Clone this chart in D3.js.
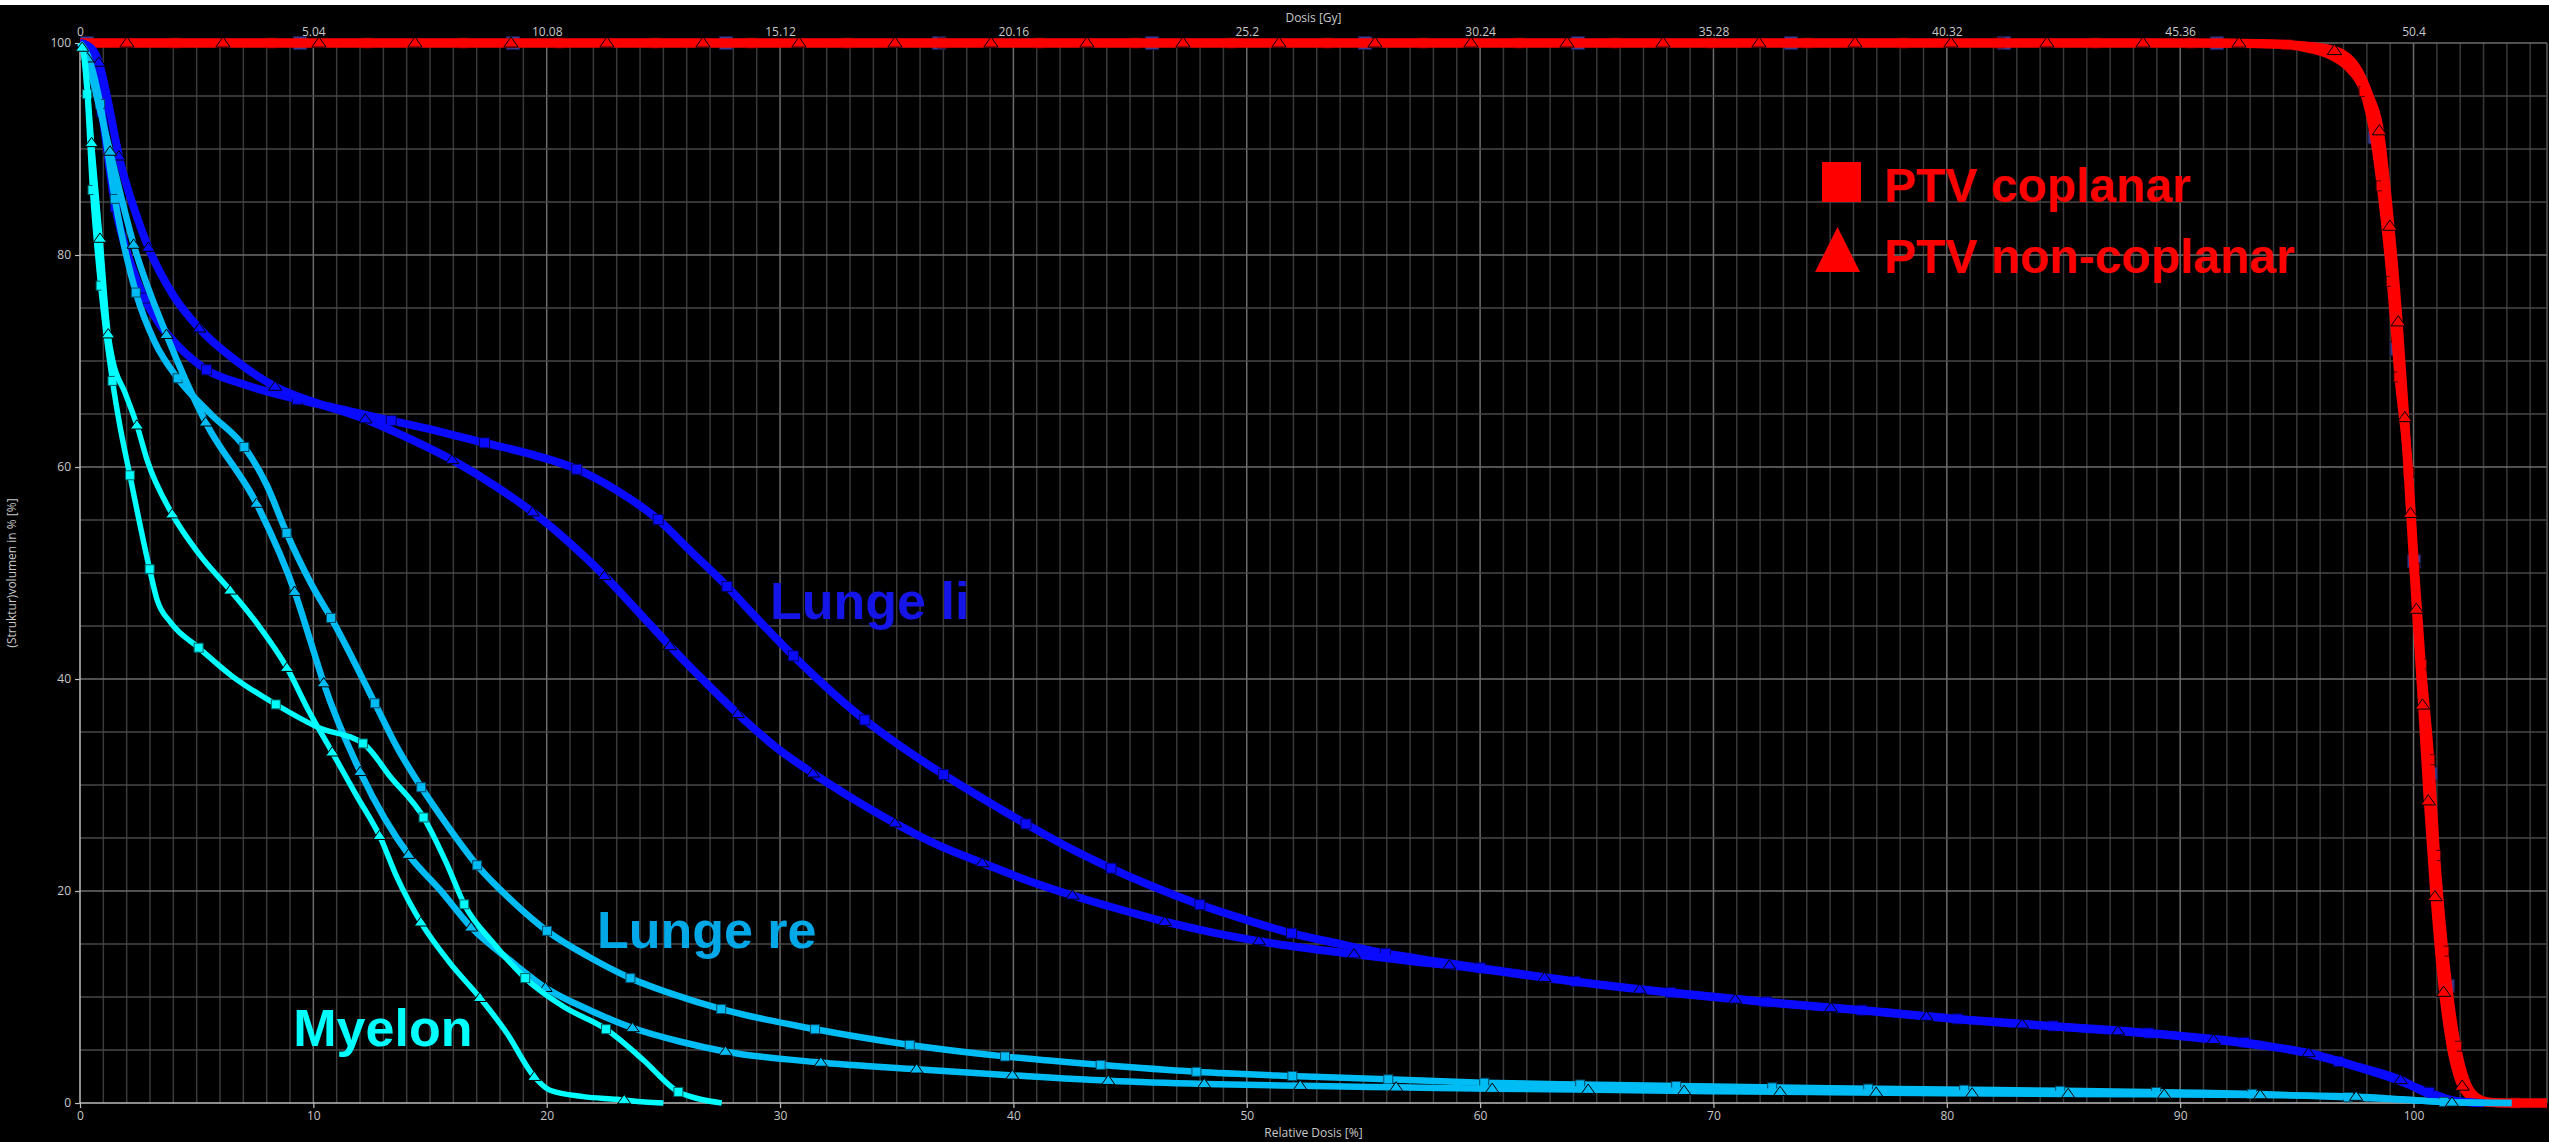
<!DOCTYPE html>
<html><head><meta charset="utf-8">
<script src="https://cdn.jsdelivr.net/npm/d3@7/dist/d3.min.js"></script>
<style>html,body{margin:0;padding:0;background:#000;overflow:hidden}</style>
</head><body>
<svg id="chart" width="2549" height="1142"></svg>
<script>
// ---------- DATA ----------
const relTicks = [0,10,20,30,40,50,60,70,80,90,100];
const gyTicks = ["0","5.04","10.08","15.12","20.16","25.2","30.24","35.28","40.32","45.36","50.4"];
const volTicks = [0,20,40,60,80,100];

// [relative dose %, volume %]
const ptvCoplanar = [[0,100],[60,100],[90,100],[94,99.9],[95.5,99.5],[96.5,98.8],[97.3,97.5],[97.87,95.5],[98.3,91.5],[98.61,86.6],[99.04,77.7],[99.37,68.6],[99.79,59.7],[100.04,50.6],[100.33,41.6],[100.69,32.6],[100.94,23.6],[101.29,14.6],[101.83,5.5],[102.2,2.2],[102.6,0.7],[103.2,0.1],[104,0],[105.72,0]];
const ptvNonCoplanar = [[0,100],[60,100],[92,100],[95,99.8],[96.6,99.3],[97.6,97.5],[98.1,95],[98.51,92.1],[98.97,83.2],[99.33,74.1],[99.61,65.2],[99.86,56.1],[100.11,47.0],[100.37,38.1],[100.61,29.2],[100.9,20.0],[101.26,11.0],[101.6,5.5],[101.97,2.2],[102.4,0.7],[103,0.1],[104,0],[105.72,0]];
const lungeLiCoplanar = [[0,100],[0.3,99],[0.86,94.5],[1.5,84.7],[2.2,79],[2.79,75.8],[3.5,73.2],[4.3,71.2],[5.4,69.2],[7.0,67.8],[9.3,66.4],[11.5,65.3],[13.5,64.3],[15.5,63.3],[17.3,62.3],[19.5,61.1],[21.28,59.8],[23.0,57.8],[24.76,55.07],[26.2,52.0],[27.68,48.84],[29.1,45.5],[30.53,42.27],[32.0,39.2],[33.55,36.28],[35.2,33.6],[36.93,31.09],[38.7,28.7],[40.44,26.45],[42.2,24.3],[44.1,22.24],[46.0,20.4],[47.88,18.8],[49.8,17.4],[51.78,16.1],[54,15.0],[56,14.1],[58,13.4],[60,12.75],[64,11.5],[68.3,10.4],[72.7,9.45],[76.7,8.7],[81.2,7.8],[85,7.2],[89.2,6.5],[93,5.65],[95,4.9],[96.7,3.96],[98.8,2.55],[100.6,1.07],[101.6,0.3],[102.5,0.05],[103,0]];
const lungeLiNonCoplanar = [[0,100],[0.3,99.8],[0.6,99.2],[0.86,97.8],[1.2,94.5],[1.69,89.1],[2.3,84.5],[2.97,80.5],[4.0,76.2],[5.19,72.9],[6.7,70.0],[8.44,67.5],[10.2,66],[12,64.7],[14,62.8],[16.07,60.52],[17.8,58.2],[19.5,55.57],[21.0,52.8],[22.5,49.68],[23.9,46.4],[25.33,43.0],[26.8,39.7],[28.27,36.55],[29.8,33.6],[31.48,31.0],[33.2,28.6],[34.97,26.35],[36.8,24.3],[38.75,22.57],[40.6,21.0],[42.58,19.55],[44.5,18.3],[46.5,17.1],[48.5,16.1],[51,15.1],[54,14.2],[57,13.4],[60,12.65],[64,11.45],[68.3,10.35],[72.7,9.4],[76.7,8.65],[81.2,7.75],[85,7.15],[89.2,6.45],[93,5.55],[95.55,4.7],[97.5,3.5],[99.46,2.17],[100.5,1.0],[101.5,0.3],[102.5,0.05],[103,0]];
const lungeReCoplanar = [[0,100],[0.3,99],[0.86,94.3],[1.5,85.2],[2.4,76.4],[3.2,71.8],[4.21,68.3],[5.6,65],[7.07,61.8],[8.0,58.3],[8.83,53.9],[9.9,49.0],[10.9,45.2],[12.64,37.7],[13.6,33.5],[14.62,29.8],[15.8,26],[17.03,22.4],[18.5,19.1],[20.04,16.2],[21.8,13.8],[23.57,11.8],[25.5,10.2],[27.46,8.87],[31.4,7.0],[35.5,5.5],[39.6,4.4],[43.7,3.6],[47.8,2.95],[51.9,2.55],[56,2.24],[60.1,1.92],[65,1.72],[70,1.55],[75,1.4],[80,1.27],[85,1.15],[90,1.0],[93.4,0.85],[97.1,0.55],[100,0.25],[102,0.05],[104.2,0]];
const lungeReNonCoplanar = [[0,100],[0.25,99],[0.6,96],[1.29,89.75],[2.31,80.9],[3.71,72.45],[5.39,64.2],[7.6,56.4],[9.22,48.1],[10.0,42.7],[10.46,39.5],[12.04,31.1],[14.12,23.3],[15.43,20.1],[16.79,16.5],[18.4,13.5],[20.0,10.8],[21.8,8.8],[23.72,7.05],[25.7,5.8],[27.69,4.84],[31.6,3.85],[35.7,3.2],[40,2.6],[44.1,2.1],[48.2,1.8],[52.3,1.63],[56.4,1.48],[60.5,1.35],[65,1.25],[70,1.12],[75,1.02],[80,0.93],[85,0.86],[90,0.8],[93.4,0.75],[97.6,0.6],[99.5,0.35],[101.6,0.05],[104.2,0]];
const myelonCoplanar = [[0,100],[0.15,99],[0.31,95.1],[0.54,86],[0.89,77],[1.4,68],[1.7,64],[2.14,59.2],[2.98,50.4],[3.3,47.5],[3.9,45.3],[5.06,43],[6.5,40.3],[8.47,37.5],[10.14,35.5],[12.2,33.8],[13.29,30.8],[14.76,26.8],[15.71,22.6],[16.5,18.6],[17.71,15.1],[19.07,11.8],[20.71,9.1],[22.55,6.95],[24.14,4.06],[25.6,1.1],[26.5,0.4],[27.5,0]];
const myelonNonCoplanar = [[0,100],[0.2,98.5],[0.5,90.5],[0.86,81.5],[1.21,72.5],[1.4,70.1],[1.93,67],[2.46,63.8],[2.87,60.7],[3.94,55.6],[5.1,51.8],[6.5,48.2],[7.7,44.9],[8.86,41.1],[9.8,37],[10.83,33.0],[11.85,29],[12.86,25.1],[13.57,21.35],[14.62,17.0],[15.86,13.2],[17.15,9.9],[18.29,6.6],[19.46,2.5],[20.14,1.2],[21.57,0.6],[23.0,0.35],[24.2,0.1],[25,0]];

const seriesNames = ["PTV coplanar","PTV non-coplanar"];
const structureLabels = ["Lunge li","Lunge re","Myelon"];

// ---------- LAYOUT ----------
const W = 2549, H = 1142;
const svg = d3.select("#chart");
const x = d3.scaleLinear().domain([0,105.72]).range([80,2547]);
const y = d3.scaleLinear().domain([0,100]).range([1103,43]);

svg.append("rect").attr("width",W).attr("height",H).attr("fill","#000");
svg.append("rect").attr("width",W).attr("height",5).attr("fill","#fff");

const grid = svg.append("g");
grid.selectAll("line.v").data(d3.range(1,106)).join("line")
  .attr("x1",d=>x(d)).attr("x2",d=>x(d)).attr("y1",y(100)).attr("y2",y(0))
  .attr("stroke",d=>d%10===0?"#6c6c6c":"#393939").attr("stroke-width",1.5);
grid.append("line").attr("x1",x(105.72)).attr("x2",x(105.72)).attr("y1",y(100)).attr("y2",y(0))
  .attr("stroke","#5a5a5a").attr("stroke-width",1.5);
grid.selectAll("line.h").data(d3.range(5,101,5)).join("line")
  .attr("x1",x(0)).attr("x2",x(105.72)).attr("y1",d=>y(d)).attr("y2",d=>y(d))
  .attr("stroke",d=>d%20===0?"#6c6c6c":"#474747").attr("stroke-width",1.5);

// axes
const tickFont = "'Open Sans','Noto Sans',sans-serif";
const axisCol = "#c8c8c8";
const yAxis = d3.axisLeft(y).tickValues(volTicks).tickSize(5).tickPadding(4);
const gy = svg.append("g").attr("transform",`translate(${x(0)},0)`).call(yAxis);
const xAxis = d3.axisBottom(x).tickValues(relTicks).tickSize(5).tickPadding(3);
const gx = svg.append("g").attr("transform",`translate(0,${y(0)})`).call(xAxis);
const xTop = d3.axisTop(x).tickValues(relTicks).tickSize(0).tickPadding(7).tickFormat((d,i)=>gyTicks[i]);
const gt = svg.append("g").attr("transform",`translate(0,${y(100)})`).call(xTop);
[gy,gx,gt].forEach(g=>{
  g.selectAll("path.domain").attr("stroke","#bdbdbd").attr("stroke-width",1.5);
  g.selectAll(".tick line").attr("stroke","#bdbdbd").attr("stroke-width",1.2);
  g.selectAll("text").attr("fill",axisCol).attr("font-family",tickFont).attr("font-size",12);
});
gt.select("path.domain").remove();
gx.select("path.domain").attr("d",`M${x(0)},0H${x(105.72)}`);
gy.select("path.domain").attr("d",`M0,${y(0)}V${y(100)}`);

svg.append("text").attr("x",(x(0)+x(105.72))/2).attr("y",22).attr("text-anchor","middle")
  .attr("fill",axisCol).attr("font-family",tickFont).attr("font-size",12).text("Dosis [Gy]");
svg.append("text").attr("x",(x(0)+x(105.72))/2).attr("y",1137).attr("text-anchor","middle")
  .attr("fill",axisCol).attr("font-family",tickFont).attr("font-size",12).text("Relative Dosis [%]");
svg.append("text").attr("transform",`translate(16,${(y(0)+y(100))/2}) rotate(-90)`).attr("text-anchor","middle")
  .attr("fill",axisCol).attr("font-family",tickFont).attr("font-size",12).text("(Struktur)volumen in % [%]");

// ---------- SERIES ----------
const line = d3.line().x(d=>x(d[0])).y(d=>y(d[1])).curve(d3.curveMonotoneX);
const plot = svg.append("g");

function marker(g, type, p, fill, size, stroke){
  if(type==="square"){
    g.append("rect").attr("x",p.x-size/2).attr("y",p.y-size/2).attr("width",size).attr("height",size)
      .attr("fill",fill).attr("stroke",stroke).attr("stroke-width",1);
  } else {
    const h = size*0.85, w = size*0.6;
    g.append("path").attr("d",`M${p.x},${p.y-h*0.6}L${p.x+w},${p.y+h*0.4}L${p.x-w},${p.y+h*0.4}Z`)
      .attr("fill",fill).attr("stroke",stroke).attr("stroke-width",1);
  }
}
function drawSeries(cfg){
  const g = plot.append("g");
  const path = g.append("path").datum(cfg.data).attr("d",line)
    .attr("fill","none").attr("stroke",cfg.drawLine?cfg.color:"none").attr("stroke-width",cfg.width)
    .attr("stroke-linejoin","round").attr("stroke-linecap","butt");
  const node = path.node(), L = node.getTotalLength();
  for(let s=cfg.offset; s<=L; s+=cfg.spacing){
    marker(g, cfg.marker, node.getPointAtLength(s), cfg.markerFill||cfg.color, cfg.size, cfg.stroke||"#000");
  }
}

const series = [
  {data:ptvCoplanar, color:"#3c3c8e", width:9, marker:"square", offset:7, spacing:213, size:13, drawLine:false, stroke:"#1c1c50"},
  {data:ptvCoplanar, color:"#ff0000", width:9, marker:"square", offset:95, spacing:96, size:10, drawLine:true, stroke:"#500000"},
  {data:ptvNonCoplanar, color:"#ff0000", width:9, marker:"triangle", offset:47, spacing:96, size:12, drawLine:true},
  {data:lungeLiCoplanar, color:"#0a0aff", width:8, marker:"square", offset:73, spacing:96, size:10, drawLine:true, stroke:"#000060"},
  {data:lungeLiNonCoplanar, color:"#0a0aff", width:8, marker:"triangle", offset:29, spacing:96, size:11, drawLine:true},
  {data:lungeReCoplanar, color:"#00bcf4", width:6.5, marker:"square", offset:65, spacing:96, size:9, drawLine:true, stroke:"#004a66"},
  {data:lungeReNonCoplanar, color:"#00bcf4", width:6.5, marker:"triangle", offset:17, spacing:96, size:11, drawLine:true},
  {data:myelonCoplanar, color:"#00ffff", width:5.5, marker:"square", offset:52, spacing:96, size:9, drawLine:true, stroke:"#006060"},
  {data:myelonNonCoplanar, color:"#00ffff", width:5.5, marker:"triangle", offset:5, spacing:96, size:11, drawLine:true}
];
series.forEach(drawSeries);

// ---------- LABELS ----------
const boldFont = "'Liberation Sans',Arial,sans-serif";
const labelCfg = [
  {text:structureLabels[0], rel:29.57, vol:45.66, color:"#1515e8"},
  {text:structureLabels[1], rel:22.15, vol:14.6, color:"#00a8e8"},
  {text:structureLabels[2], rel:9.14, vol:5.38, color:"#00ffff"}
];
svg.append("g").selectAll("text").data(labelCfg).join("text")
  .attr("x",d=>x(d.rel)).attr("y",d=>y(d.vol)).attr("fill",d=>d.color)
  .attr("font-family",boldFont).attr("font-weight","bold").attr("font-size",52).text(d=>d.text);

// legend
const lg = svg.append("g");
lg.append("rect").attr("x",1822).attr("y",162).attr("width",39).attr("height",40).attr("fill","#ff0000");
lg.append("path").attr("d","M1837.5,227L1860,272L1815,272Z").attr("fill","#ff0000");
lg.append("text").attr("x",1884).attr("y",202).attr("fill","#ff0000").attr("font-family",boldFont)
  .attr("font-weight","bold").attr("font-size",48).text(seriesNames[0]);
lg.append("text").attr("x",1884).attr("y",273).attr("fill","#ff0000").attr("font-family",boldFont)
  .attr("font-weight","bold").attr("font-size",48).text(seriesNames[1]);
</script>
</body></html>
